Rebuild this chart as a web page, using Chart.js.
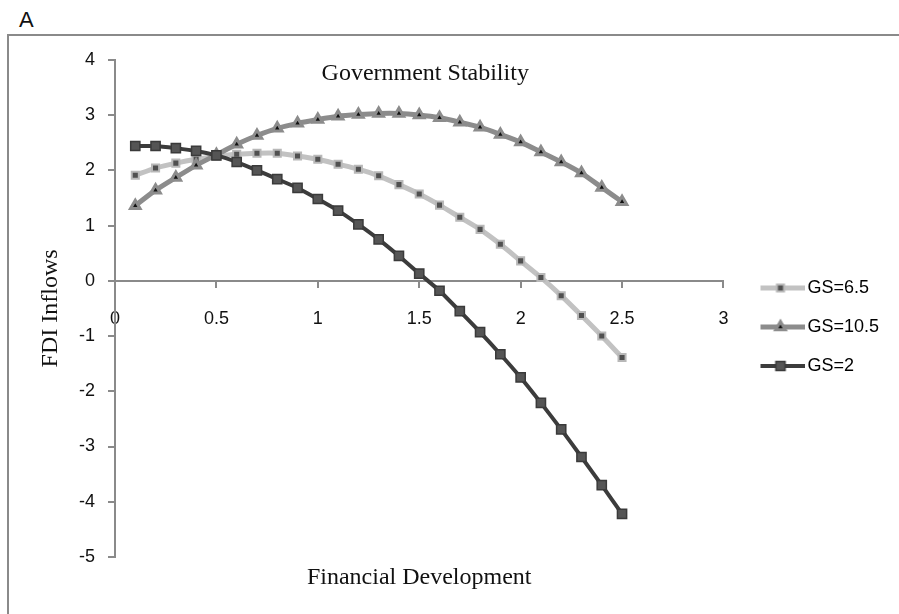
<!DOCTYPE html>
<html>
<head>
<meta charset="utf-8">
<script src="https://cdn.jsdelivr.net/npm/chart.js@4.4.1/dist/chart.umd.min.js"></script>
<style>
  html, body { margin: 0; padding: 0; background: #fff; overflow: hidden; }
  #tag { position: absolute; left: 19px; top: 7px; font: 22px "Liberation Sans", Arial, sans-serif; color: #111; }
  #frame { position: absolute; left: 7px; top: 34px; width: 1000px; height: 700px;
           border-top: 2px solid #8a8a8a; border-left: 2px solid #8a8a8a; }
  #wrap { position: absolute; left: 9px; top: 36px; width: 890px; height: 578px; }
</style>
</head>
<body>
<div id="tag">A</div>
<div id="frame"></div>
<div id="wrap"><canvas id="fdiChart"></canvas></div>
<script>
// Financial development (x values)
const finDev = [0.1, 0.2, 0.3, 0.4, 0.5, 0.6, 0.7, 0.8, 0.9, 1.0, 1.1, 1.2, 1.3,
                1.4, 1.5, 1.6, 1.7, 1.8, 1.9, 2.0, 2.1, 2.2, 2.3, 2.4, 2.5];

// FDI inflows for each government stability level
const gs65 = [1.91, 2.04, 2.13, 2.20, 2.25, 2.29, 2.31, 2.31, 2.26, 2.20, 2.11, 2.02, 1.90,
              1.74, 1.57, 1.37, 1.15, 0.93, 0.66, 0.36, 0.06, -0.27, -0.63, -1.00, -1.39];
const gs105 = [1.36, 1.64, 1.87, 2.09, 2.28, 2.47, 2.63, 2.76, 2.85, 2.92, 2.98, 3.01, 3.03,
               3.03, 3.00, 2.95, 2.87, 2.78, 2.65, 2.51, 2.33, 2.15, 1.95, 1.69, 1.43];
const gs2 = [2.44, 2.44, 2.40, 2.35, 2.27, 2.15, 2.00, 1.84, 1.68, 1.48, 1.27, 1.02, 0.75,
             0.45, 0.13, -0.18, -0.55, -0.93, -1.33, -1.75, -2.21, -2.69, -3.19, -3.70, -4.22];

const seriesLabels = ['GS=6.5', 'GS=10.5', 'GS=2'];
const xTicks = [0, 0.5, 1, 1.5, 2, 2.5, 3];
const yTicks = [-5, -4, -3, -2, -1, 0, 1, 2, 3, 4];

const chartTitle = 'Government Stability';
const xTitle = 'Financial Development';
const yTitle = 'FDI Inflows';

const styles = [
    { line: '#c2c2c2', lw: 5, pointStyle: 'rect', radius: 5, fill: '#505050', border: '#b8b8b8', bw: 2 },
    { line: '#8c8c8c', lw: 5, pointStyle: 'triangle', radius: 5.5, fill: '#111111', border: '#8c8c8c', bw: 3 },
    { line: '#3c3c3c', lw: 4, pointStyle: 'rect', radius: 6.5, fill: '#555555', border: '#3a3a3a', bw: 1.5 }
];

const toPoints = (ys) => finDev.map((x, i) => ({ x: x, y: ys[i] }));

// line + marker icon for the legend
const legendIcon = (s) => {
    const c = document.createElement('canvas');
    c.width = 68;
    c.height = 18;
    const g = c.getContext('2d');
    g.strokeStyle = s.line;
    g.lineWidth = s.lw;
    g.beginPath();
    g.moveTo(23, 9);
    g.lineTo(68, 9);
    g.stroke();
    g.fillStyle = s.fill;
    g.strokeStyle = s.border;
    g.lineWidth = s.bw;
    Chart.helpers.drawPoint(g, { pointStyle: s.pointStyle, radius: s.radius, rotation: 0, borderWidth: s.bw }, 43, 9);
    return c;
};

const allSeries = [gs65, gs105, gs2];
const datasets = allSeries.map((ys, i) => ({
    label: seriesLabels[i],
    data: toPoints(ys),
    borderColor: styles[i].line,
    borderWidth: styles[i].lw,
    pointStyle: styles[i].pointStyle,
    pointRadius: styles[i].radius,
    pointBackgroundColor: styles[i].fill,
    pointBorderColor: styles[i].border,
    pointBorderWidth: styles[i].bw,
    tension: 0.2,
    order: 3 - i
}));

const innerTitle = {
    id: 'innerTitle',
    afterDraw(chart) {
        const { ctx, chartArea } = chart;
        ctx.save();
        ctx.font = '24px "Liberation Serif", serif';
        ctx.fillStyle = '#111';
        ctx.textAlign = 'center';
        ctx.textBaseline = 'middle';
        ctx.fillText(chartTitle, (chartArea.left + chartArea.right) / 2 + 6, chartArea.top + 14);
        ctx.restore();
    }
};

const axisColor = '#8a8a8a';
const tickFont = { family: '"Liberation Sans", Arial, sans-serif', size: 18 };
const titleFont = { family: '"Liberation Serif", serif', size: 24 };

new Chart(document.getElementById('fdiChart'), {
    type: 'line',
    data: { datasets: datasets },
    plugins: [innerTitle],
    options: {
        responsive: true,
        maintainAspectRatio: false,
        animation: false,
        layout: { padding: { top: 22, right: 10, bottom: 18, left: 0 } },
        scales: {
            x: {
                type: 'linear',
                position: { y: 0 },
                min: 0,
                max: 3,
                afterBuildTicks: (scale) => { scale.ticks = xTicks.map(v => ({ value: v })); },
                ticks: { color: '#111', font: tickFont, padding: 21, callback: (v) => String(v) },
                grid: { drawOnChartArea: false, drawTicks: true, tickLength: 6, color: axisColor, lineWidth: 2 },
                border: { color: axisColor, width: 2 }
            },
            x2: {
                type: 'linear',
                position: 'bottom',
                min: 0,
                max: 3,
                ticks: { display: false },
                grid: { display: false, drawTicks: false },
                border: { display: false },
                title: { display: true, text: xTitle, color: '#111', font: titleFont, padding: { top: 0, bottom: 4 } },
                afterFit: (scale) => { scale.height = 39; }
            },
            y: {
                type: 'linear',
                min: -5,
                max: 4,
                afterBuildTicks: (scale) => { scale.ticks = yTicks.map(v => ({ value: v })); },
                ticks: { color: '#111', font: tickFont, padding: 13, callback: (v) => String(v) },
                grid: { drawOnChartArea: false, drawTicks: true, tickLength: 7, color: axisColor, lineWidth: 2 },
                border: { color: axisColor, width: 2 },
                title: { display: true, text: yTitle, color: '#111', font: titleFont, padding: { top: 27, bottom: 0 } },
                afterFit: (scale) => { scale.width = 106; }
            }
        },
        plugins: {
            tooltip: { enabled: false },
            legend: {
                position: 'right',
                labels: {
                    usePointStyle: true,
                    pointStyleWidth: 54,
                    padding: 21,
                    color: '#111',
                    font: tickFont,
                    generateLabels: () => seriesLabels.map((text, i) => ({
                        text: text,
                        pointStyle: legendIcon(styles[i]),
                        fillStyle: styles[i].fill,
                        strokeStyle: styles[i].line,
                        lineWidth: 0,
                        hidden: false,
                        datasetIndex: i
                    }))
                }
            }
        }
    }
});
</script>
</body>
</html>
